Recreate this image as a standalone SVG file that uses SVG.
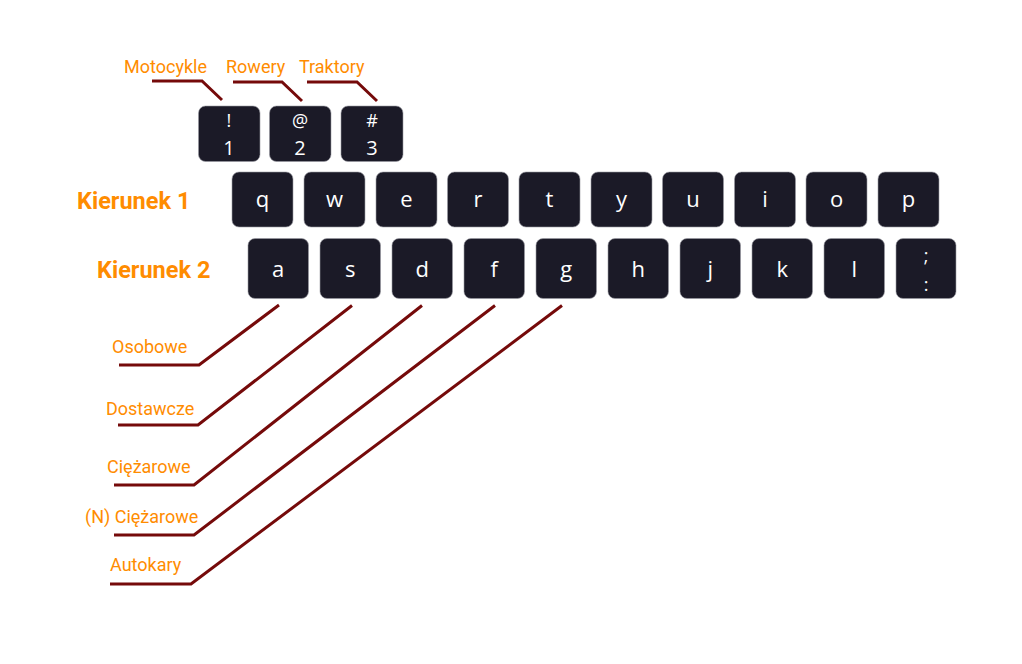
<svg xmlns="http://www.w3.org/2000/svg" width="1022" height="664" viewBox="0 0 1022 664">
<style>
.key{fill:#1b1a27;stroke:#9a9aa3;stroke-width:0.6}
.kt{fill:#ffffff;font-family:"Open Sans","DejaVu Sans",sans-serif;font-size:22px;text-anchor:middle}
.ks{fill:#ffffff;font-family:"Open Sans","DejaVu Sans",sans-serif;font-size:18px;text-anchor:middle}
.kd{fill:#ffffff;font-family:"Open Sans","DejaVu Sans",sans-serif;font-size:20px;text-anchor:middle}
.lbl{fill:#ff8c00;font-family:Roboto,"Liberation Sans",sans-serif;font-size:18px}
.hd{fill:#ff8c00;font-family:Roboto,"Liberation Sans",sans-serif;font-size:23.5px;font-weight:bold}
.ln{fill:none;stroke:#750a0a;stroke-width:3;stroke-linejoin:miter}
</style>
<rect width="1022" height="664" fill="#ffffff"/>
<g id="connectors">
<polyline class="ln" points="152,81 202,81 222,100"/>
<polyline class="ln" points="233,82 282,82 302,101"/>
<polyline class="ln" points="307,82 357,82 377,101"/>
<polyline class="ln" points="119,365 199,365 279,305"/>
<polyline class="ln" points="118,425 198,425 352,305.5"/>
<polyline class="ln" points="114,485 194,485 422,305.5"/>
<polyline class="ln" points="114,535 194,535 495,305.5"/>
<polyline class="ln" points="110,584 191,584 562,305.5"/>
</g>
<g id="labels">
<text class="lbl" x="124" y="73">Motocykle</text>
<text class="lbl" x="226" y="73">Rowery</text>
<text class="lbl" x="299" y="73">Traktory</text>
<text class="hd" x="77" y="209">Kierunek 1</text>
<text class="hd" x="97" y="277.5">Kierunek 2</text>
<text class="lbl" x="112" y="353">Osobowe</text>
<text class="lbl" x="106" y="415">Dostawcze</text>
<text class="lbl" x="107" y="473">Ciężarowe</text>
<text class="lbl" x="85" y="523">(N) Ciężarowe</text>
<text class="lbl" x="110" y="571">Autokary</text>
</g>
<g id="key-1"><rect class="key" x="198.5" y="106" width="61.5" height="55.5" rx="7"/><text class="ks" x="229" y="127">!</text><text class="kd" x="229" y="155">1</text></g>
<g id="key-2"><rect class="key" x="269.5" y="106" width="61.5" height="55.5" rx="7"/><text class="ks" x="300" y="127">@</text><text class="kd" x="300" y="155">2</text></g>
<g id="key-3"><rect class="key" x="341" y="106" width="62" height="55.5" rx="7"/><text class="ks" x="372" y="127">#</text><text class="kd" x="372" y="155">3</text></g>
<g id="key-q"><rect class="key" x="232" y="172" width="61" height="55" rx="7"/><text class="kt" x="262.5" y="207">q</text></g>
<g id="key-w"><rect class="key" x="304" y="172" width="61" height="55" rx="7"/><text class="kt" x="334.5" y="207">w</text></g>
<g id="key-e"><rect class="key" x="376" y="172" width="61" height="55" rx="7"/><text class="kt" x="406.5" y="207">e</text></g>
<g id="key-r"><rect class="key" x="447.5" y="172" width="61" height="55" rx="7"/><text class="kt" x="478" y="207">r</text></g>
<g id="key-t"><rect class="key" x="519" y="172" width="61" height="55" rx="7"/><text class="kt" x="549.5" y="207">t</text></g>
<g id="key-y"><rect class="key" x="591" y="172" width="61" height="55" rx="7"/><text class="kt" x="621.5" y="207">y</text></g>
<g id="key-u"><rect class="key" x="662.5" y="172" width="61" height="55" rx="7"/><text class="kt" x="693" y="207">u</text></g>
<g id="key-i"><rect class="key" x="734.5" y="172" width="61" height="55" rx="7"/><text class="kt" x="765" y="207">i</text></g>
<g id="key-o"><rect class="key" x="806" y="172" width="61" height="55" rx="7"/><text class="kt" x="836.5" y="207">o</text></g>
<g id="key-p"><rect class="key" x="878" y="172" width="61" height="55" rx="7"/><text class="kt" x="908.5" y="207">p</text></g>
<g id="key-a"><rect class="key" x="248" y="238.5" width="60.5" height="60" rx="7"/><text class="kt" x="278.2" y="277">a</text></g>
<g id="key-s"><rect class="key" x="320" y="238.5" width="60.5" height="60" rx="7"/><text class="kt" x="350.2" y="277">s</text></g>
<g id="key-d"><rect class="key" x="392" y="238.5" width="60.5" height="60" rx="7"/><text class="kt" x="422.2" y="277">d</text></g>
<g id="key-f"><rect class="key" x="464" y="238.5" width="60.5" height="60" rx="7"/><text class="kt" x="494.2" y="277">f</text></g>
<g id="key-g"><rect class="key" x="536" y="238.5" width="60.5" height="60" rx="7"/><text class="kt" x="566.2" y="277">g</text></g>
<g id="key-h"><rect class="key" x="608" y="238.5" width="60.5" height="60" rx="7"/><text class="kt" x="638.2" y="277">h</text></g>
<g id="key-j"><rect class="key" x="680" y="238.5" width="60.5" height="60" rx="7"/><text class="kt" x="710.2" y="277">j</text></g>
<g id="key-k"><rect class="key" x="752" y="238.5" width="60.5" height="60" rx="7"/><text class="kt" x="782.2" y="277">k</text></g>
<g id="key-l"><rect class="key" x="824" y="238.5" width="60.5" height="60" rx="7"/><text class="kt" x="854.2" y="277">l</text></g>
<g id="key-semicolon"><rect class="key" x="896" y="238.5" width="60" height="60" rx="7"/><text class="ks" x="926" y="262">;</text><text class="ks" x="926" y="291">:</text></g>
</svg>
